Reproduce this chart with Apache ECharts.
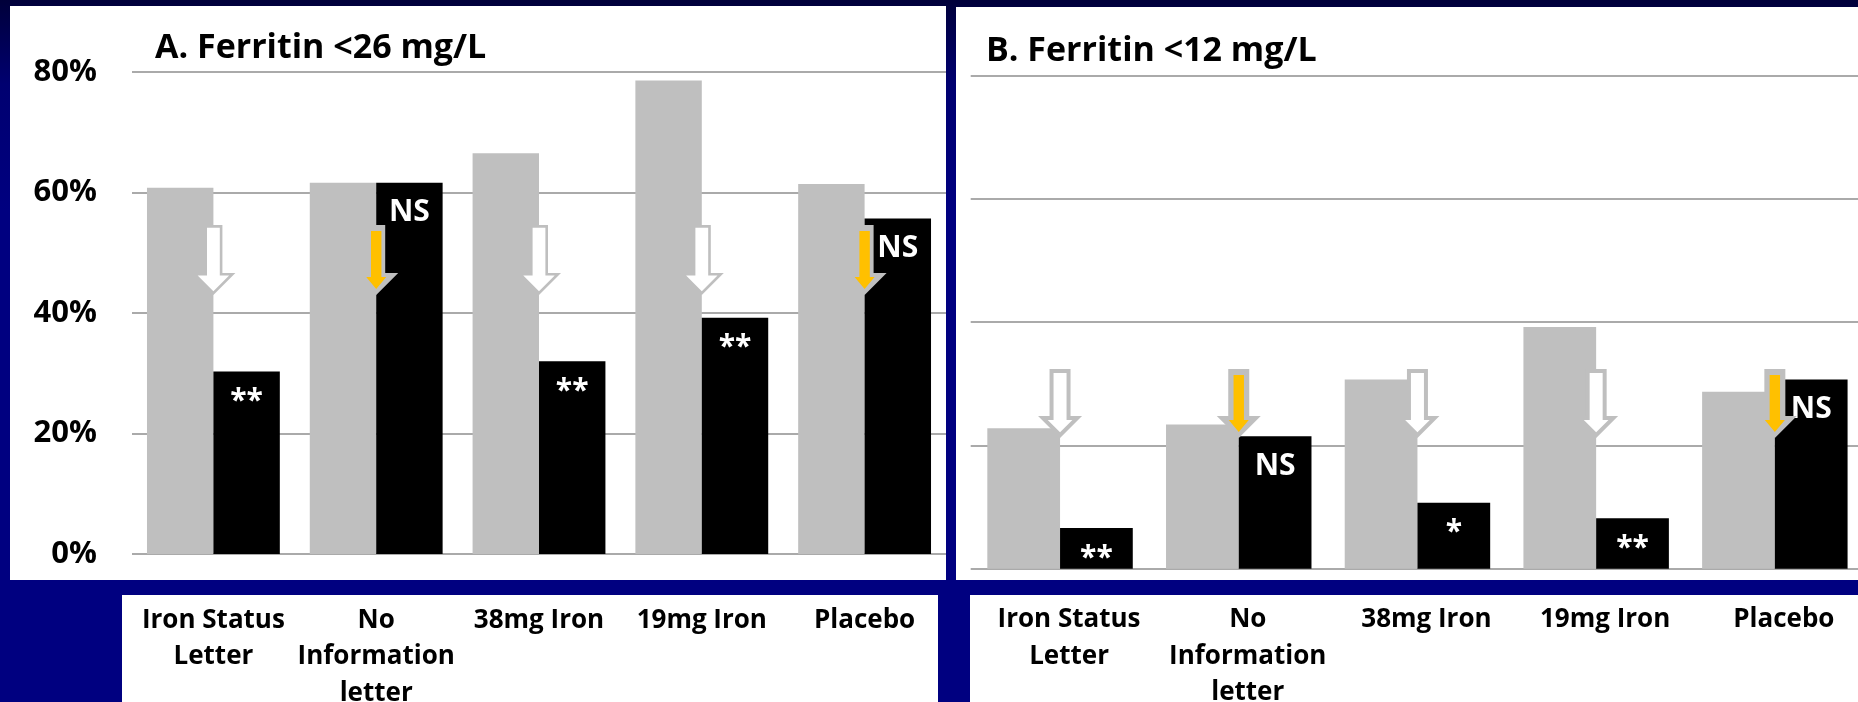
<!DOCTYPE html>
<html>
<head>
<meta charset="utf-8">
<script src="https://cdn.jsdelivr.net/npm/echarts@6/dist/echarts.min.js"></script>
<style>
  html, body { margin: 0; padding: 0; background: #000080; }
  #chart { width: 1858px; height: 702px; }
</style>
</head>
<body>
<div id="chart"></div>
<script>
// ---- Data ----
const categories = ['Iron Status\nLetter', 'No\nInformation\nletter', '38mg Iron', '19mg Iron', 'Placebo'];
const titleA = 'A. Ferritin <26 mg/L';
const titleB = 'B. Ferritin <12 mg/L';
// Ferritin < 26 (percent)
const ferritin26Baseline = [60.8, 61.6, 66.5, 78.6, 61.4];
const ferritin26Final    = [30.3, 61.6, 32.0, 39.2, 55.7];
const marks26 = ['**', 'NS', '**', '**', 'NS'];
const arrowLevels26 = [54.6, 43.0];   // arrow top, arrow tip (percent)
// Ferritin < 12 (percent)
const ferritin12Baseline = [11.4, 11.7, 15.35, 19.6, 14.35];
const ferritin12Final    = [3.3, 10.75, 5.35, 4.1, 15.35];
const marks12 = ['**', 'NS', '*', '**', 'NS'];
const arrowLevels12 = [16.2, 10.6];
// Axis ticks
const yTicks26 = { min: 0, max: 80, interval: 20 };
const yTicks12 = { min: 0, max: 40, interval: 10 };

const FONT = 'Open Sans';
const GREY = '#bfbfbf';
const ORANGE = '#ffc000';

function arrowData(marks, levels) {
  return marks.map((m, i) => [i, levels[0], levels[1], m === 'NS' ? 1 : 0]);
}

function makeArrowRenderer(cfg) {
  return function (params, api) {
    const idx = api.value(0);
    const p0 = api.coord([idx, api.value(1)]);
    const p1 = api.coord([idx, api.value(2)]);
    const ns = api.value(3) === 1;
    const x = p0[0], y0 = p0[1], y1 = p1[1];
    const sw = cfg.shaft / 2, hw = cfg.head / 2, hh = cfg.headH;
    const yb = y1 - hh;
    const outer = [[x - sw, y0], [x + sw, y0], [x + sw, yb], [x + hw, yb], [x, y1], [x - hw, yb], [x - sw, yb]];
    let inner, fill;
    if (ns) {
      const s = 5.2, h = 10, ih = 12, t = 6, b = 6;
      const ib = y1 - b - ih;
      inner = [[x - s, y0 + t], [x + s, y0 + t], [x + s, ib], [x + h, ib], [x, y1 - b], [x - h, ib], [x - s, ib]];
      fill = ORANGE;
    } else {
      const d = cfg.inset;
      const ihw = hw - d - d * Math.SQRT2;
      const ib = yb + d;
      inner = [[x - sw + d, y0 + d], [x + sw - d, y0 + d], [x + sw - d, ib], [x + ihw, ib], [x, y1 - d * Math.SQRT2], [x - ihw, ib], [x - sw + d, ib]];
      fill = '#ffffff';
    }
    return {
      type: 'group',
      children: [
        { type: 'polygon', shape: { points: outer }, style: { fill: GREY } },
        { type: 'polygon', shape: { points: inner }, style: { fill: fill } }
      ]
    };
  };
}

function barLabel(marks) {
  return {
    show: true,
    position: 'insideTop',
    distance: 15,
    color: '#ffffff',
    fontFamily: FONT,
    fontWeight: 'bold',
    fontSize: 30,
    formatter: p => marks[p.dataIndex]
  };
}

const chart = echarts.init(document.getElementById('chart'), null, { renderer: 'canvas' });

const option = {
  backgroundColor: {
    type: 'linear', x: 0, y: 0, x2: 0, y2: 1,
    colorStops: [{ offset: 0, color: '#00003a' }, { offset: 0.12, color: '#000070' }, { offset: 0.3, color: '#000080' }, { offset: 1, color: '#000080' }]
  },
  animation: false,
  graphic: [
    { type: 'rect', z: -10, shape: { x: 10, y: 6, width: 936, height: 574 }, style: { fill: '#ffffff' } },
    { type: 'rect', z: -10, shape: { x: 956, y: 7, width: 902, height: 573 }, style: { fill: '#ffffff' } },
    { type: 'rect', z: -10, shape: { x: 122, y: 595, width: 816, height: 107 }, style: { fill: '#ffffff' } },
    { type: 'rect', z: -10, shape: { x: 970, y: 595, width: 888, height: 107 }, style: { fill: '#ffffff' } }
  ],
  title: [
    { text: titleA, left: 150, top: 26, textStyle: { fontFamily: FONT, fontWeight: 'bold', fontSize: 34, color: '#000000' } },
    { text: titleB, left: 981, top: 29, textStyle: { fontFamily: FONT, fontWeight: 'bold', fontSize: 34, color: '#000000' } }
  ],
  grid: [
    { left: 132, top: 72, width: 814, height: 482, outerBoundsMode: 'none', containLabel: false },
    { left: 970.7, top: 75.5, width: 893.5, height: 493.2, outerBoundsMode: 'none', containLabel: false }
  ],
  xAxis: [
    {
      type: 'category', gridIndex: 0, data: categories,
      axisLine: { show: false }, axisTick: { show: false },
      axisLabel: { interval: 0, margin: 48, color: '#000000', fontFamily: FONT, fontWeight: 'bold', fontSize: 26, lineHeight: 36.5, verticalAlign: 'top' }
    },
    {
      type: 'category', gridIndex: 1, data: categories,
      axisLine: { show: false }, axisTick: { show: false },
      axisLabel: { interval: 0, margin: 33, color: '#000000', fontFamily: FONT, fontWeight: 'bold', fontSize: 26, lineHeight: 36.5, verticalAlign: 'top', padding: [0, 0, 0, 18] }
    }
  ],
  yAxis: [
    {
      type: 'value', gridIndex: 0, min: yTicks26.min, max: yTicks26.max, interval: yTicks26.interval,
      axisLine: { show: false }, axisTick: { show: false },
      splitLine: { show: true, lineStyle: { color: '#aaaaaa', width: 2 } },
      axisLabel: { formatter: '{value}%', margin: 35, color: '#000000', fontFamily: FONT, fontWeight: 'bold', fontSize: 31 }
    },
    {
      type: 'value', gridIndex: 1, min: yTicks12.min, max: yTicks12.max, interval: yTicks12.interval,
      axisLine: { show: false }, axisTick: { show: false },
      splitLine: { show: true, lineStyle: { color: '#aaaaaa', width: 2 } },
      axisLabel: { show: false }
    }
  ],
  series: [
    { name: 'Baseline', type: 'bar', xAxisIndex: 0, yAxisIndex: 0, data: ferritin26Baseline, itemStyle: { color: GREY }, barGap: '0%', barCategoryGap: '18.4%' },
    { name: 'Final', type: 'bar', xAxisIndex: 0, yAxisIndex: 0, data: ferritin26Final, itemStyle: { color: '#000000' }, barGap: '0%', barCategoryGap: '18.4%', label: barLabel(marks26) },
    { name: 'Change', type: 'custom', xAxisIndex: 0, yAxisIndex: 0, z: 5, data: arrowData(marks26, arrowLevels26),
      renderItem: makeArrowRenderer({ shaft: 18, head: 44, headH: 22, inset: 2.6 }) },

    { name: 'Baseline', type: 'bar', xAxisIndex: 1, yAxisIndex: 1, data: ferritin12Baseline, itemStyle: { color: GREY }, barGap: '0%', barCategoryGap: '18.6%' },
    { name: 'Final', type: 'bar', xAxisIndex: 1, yAxisIndex: 1, data: ferritin12Final, itemStyle: { color: '#000000' }, barGap: '0%', barCategoryGap: '18.6%', label: barLabel(marks12) },
    { name: 'Change', type: 'custom', xAxisIndex: 1, yAxisIndex: 1, z: 5, data: arrowData(marks12, arrowLevels12),
      renderItem: makeArrowRenderer({ shaft: 21, head: 44, headH: 22, inset: 4 }) }
  ]
};

chart.setOption(option);
</script>
</body>
</html>
